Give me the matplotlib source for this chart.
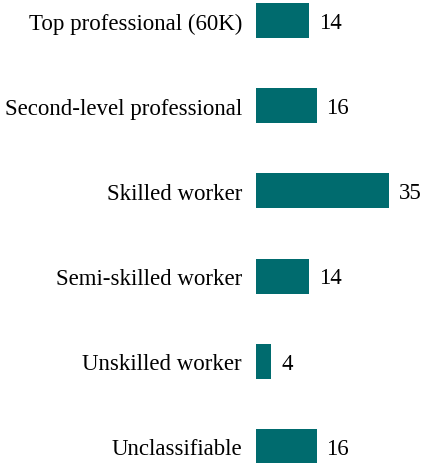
import matplotlib.pyplot as plt

categories = ["Top professional (60K)", "Second-level professional", "Skilled worker",
              "Semi-skilled worker", "Unskilled worker", "Unclassifiable"]
values = [14, 16, 35, 14, 4, 16]

W, H = 423, 464
fig = plt.figure(figsize=(W / 100, H / 100), dpi=100)
ax = fig.add_axes([256 / W, 0, (W - 256) / W, 1])

pos = list(range(len(categories)))
ax.barh(pos, values, height=0.41, color="#006b6e")
for y, v in zip(pos, values):
    ax.text(v + 2.6, y + 0.02, str(v), va="center", ha="left",
            fontsize=16.5, family="Liberation Serif", color="#000000")

ax.set_xlim(0, 167 / 3.79)
ax.set_ylim((H - 21.5) / 85.2, -21.5 / 85.2)
ax.set_yticks(pos)
ax.set_yticklabels(categories, fontsize=16.5, family="Liberation Serif", color="#000000")
ax.tick_params(axis="y", length=0, pad=10)
ax.set_xticks([])
for s in ax.spines.values():
    s.set_visible(False)

fig.savefig("out.png", dpi=100)
